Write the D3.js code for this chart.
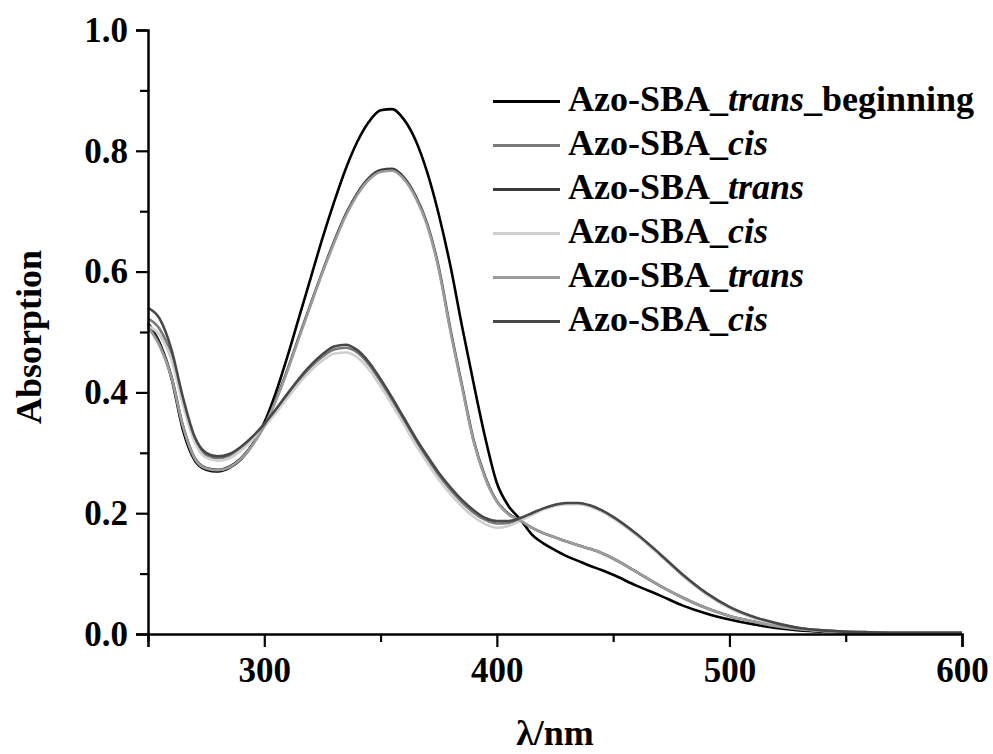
<!DOCTYPE html>
<html><head><meta charset="utf-8">
<script src="https://cdn.jsdelivr.net/npm/d3@7"></script>
<style>
html,body{margin:0;padding:0;background:#fff;}
svg text{font-family:"Liberation Serif","Times New Roman",serif;font-weight:bold;fill:#000;}
</style></head>
<body><svg id="chart" width="993" height="754"></svg>
<script>
const wavelengths = [250,255,260,265,270,275,280,285,290,295,300,305,310,315,320,325,330,335,340,345,350,355,360,365,370,375,380,385,390,395,400,405,410,415,420,425,430,435,440,445,450,460,470,480,490,500,510,520,530,540,550,560,580,600];

const transBeginning = [.515,.482,.425,.338,.288,.272,.269,.275,.289,.314,.350,.400,.460,.525,.590,.655,.715,.770,.815,.848,.867,.869,.852,.818,.765,.695,.610,.510,.415,.325,.250,.212,.190,.165,.150,.139,.129,.121,.113,.106,.098,.080,.064,.047,.034,.024,.016,.010,.006,.004,.003,.002,.002,.002];
const cis1 = [.522,.505,.462,.385,.322,.296,.291,.295,.307,.325,.346,.370,.396,.420,.442,.459,.471,.474,.466,.446,.418,.387,.354,.321,.291,.263,.239,.218,.201,.189,.183,.184,.190,.199,.207,.213,.216,.216,.212,.204,.193,.165,.132,.097,.067,.044,.028,.017,.010,.006,.004,.003,.002,.002];
const trans1 = [.512,.480,.428,.345,.292,.275,.272,.277,.291,.314,.345,.388,.438,.493,.547,.600,.650,.695,.730,.755,.768,.770,.756,.726,.680,.607,.505,.412,.321,.260,.220,.199,.188,.176,.167,.160,.153,.147,.141,.134,.125,.103,.080,.060,.043,.030,.021,.013,.008,.005,.003,.002,.002,.002];
const cis2 = [.510,.495,.455,.380,.318,.292,.287,.291,.304,.322,.343,.366,.391,.415,.436,.453,.464,.466,.458,.438,.410,.379,.347,.314,.284,.256,.232,.211,.194,.182,.176,.179,.187,.197,.206,.212,.215,.215,.211,.203,.192,.164,.131,.096,.066,.043,.027,.016,.009,.005,.004,.003,.002,.002];
const trans2 = [.508,.477,.426,.344,.291,.274,.271,.276,.290,.313,.344,.386,.436,.491,.545,.598,.647,.692,.727,.752,.765,.767,.753,.723,.677,.604,.502,.409,.319,.258,.219,.198,.188,.176,.167,.160,.153,.147,.141,.134,.125,.103,.080,.060,.043,.030,.021,.013,.008,.005,.003,.002,.002,.002];
const cis3 = [.540,.522,.472,.392,.327,.300,.294,.298,.310,.327,.348,.372,.398,.423,.445,.463,.476,.479,.470,.450,.422,.391,.358,.325,.295,.267,.243,.222,.205,.192,.187,.187,.192,.200,.208,.214,.217,.217,.213,.205,.194,.166,.133,.098,.068,.045,.029,.018,.010,.006,.004,.003,.002,.002];

const seriesNames = ["trans_beginning","cis","trans","cis","trans","cis"];
const seriesValues = [transBeginning, cis1, trans1, cis2, trans2, cis3];
const seriesColors = ["#000000","#7a7a7a","#3c3c3c","#cfcfcf","#9c9c9c","#484848"];

const xMajorTicks = [300,400,500,600];
const xMinorTicks = [250,350,450,550];
const yMajorTicks = [0.0,0.2,0.4,0.6,0.8,1.0];
const yMinorTicks = [0.1,0.3,0.5,0.7,0.9];

const svg = d3.select("#chart");
const L = 148, R = 962, T = 30, B = 634;
const x = d3.scaleLinear().domain([250,600]).range([L,R]);
const y = d3.scaleLinear().domain([0,1]).range([B,T]);

const line = d3.line().x((d,i)=>x(wavelengths[i])).y(d=>y(d)).curve(d3.curveMonotoneX);

const g = svg.append("g");
seriesValues.forEach((vals,k)=>{
  g.append("path").datum(vals).attr("d",line).attr("fill","none")
    .attr("stroke",seriesColors[k]).attr("stroke-width",2.6).attr("stroke-linejoin","round");
});

// axes
const xAxis = svg.append("g").attr("transform",`translate(0,${B})`)
  .call(d3.axisBottom(x).tickValues(xMajorTicks).tickFormat(d3.format("d")).tickSize(13).tickPadding(10));
const xMinor = svg.append("g").attr("transform",`translate(0,${B})`)
  .call(d3.axisBottom(x).tickValues(xMinorTicks).tickFormat("").tickSize(8));
const yAxis = svg.append("g").attr("transform",`translate(${L},0)`)
  .call(d3.axisLeft(y).tickValues(yMajorTicks).tickFormat(d3.format(".1f")).tickSize(12).tickPadding(8));
const yMinor = svg.append("g").attr("transform",`translate(${L},0)`)
  .call(d3.axisLeft(y).tickValues(yMinorTicks).tickFormat("").tickSize(8));
[xAxis,xMinor,yAxis,yMinor].forEach(a=>{
  a.select(".domain").attr("stroke","#000").attr("stroke-width",2.5);
  a.selectAll(".tick line").attr("stroke","#000").attr("stroke-width",2.2);
  a.selectAll(".tick text").style("font-family","Liberation Serif").style("font-weight","bold").style("font-size","35px").attr("fill","#000");
});
xMinor.select(".domain").remove();
yMinor.select(".domain").remove();

// axis titles
svg.append("text").attr("x",(L+R)/2).attr("y",745).attr("text-anchor","middle")
  .style("font-size","36px").text("λ/nm");
svg.append("text").attr("transform",`translate(41,337) rotate(-90)`).attr("text-anchor","middle")
  .style("font-size","36px").text("Absorption");

// legend
const legend = svg.append("g");
seriesNames.forEach((name,k)=>{
  const yy = 101.5 + k*44;
  legend.append("line").attr("x1",493).attr("x2",560).attr("y1",yy).attr("y2",yy)
    .attr("stroke",seriesColors[k]).attr("stroke-width",3);
  const t = legend.append("text").attr("x",568).attr("y",yy+9).style("font-size","36px");
  t.append("tspan").text("Azo-SBA_");
  if(name==="trans_beginning"){
    t.append("tspan").style("font-style","italic").text("trans");
    t.append("tspan").text("_beginning");
  } else {
    t.append("tspan").style("font-style","italic").text(name);
  }
});
</script></body></html>
